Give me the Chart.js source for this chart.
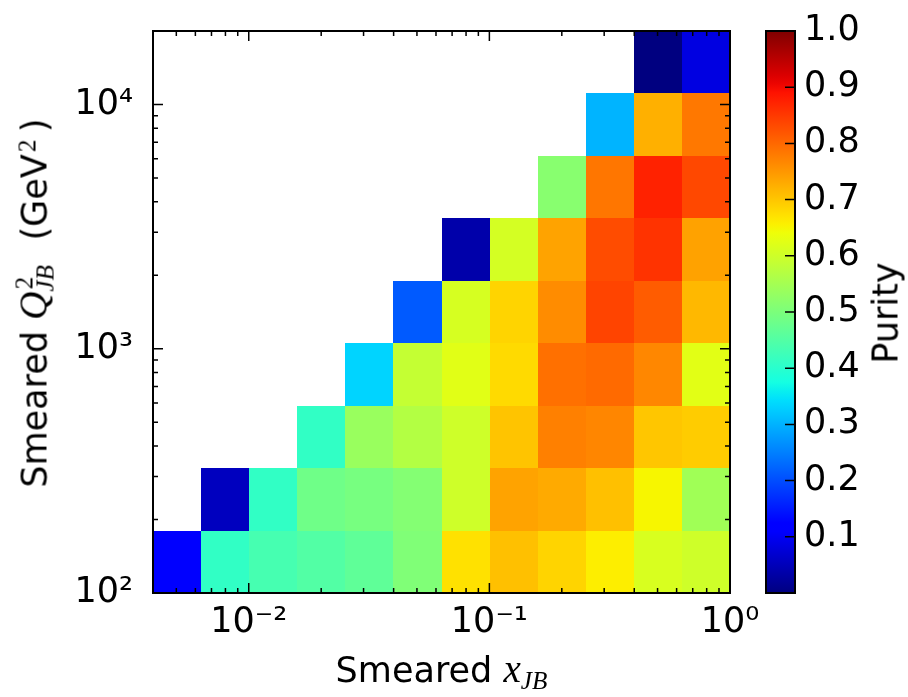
<!DOCTYPE html>
<html><head><meta charset="utf-8">
<script src="https://cdn.jsdelivr.net/npm/chart.js@4.4.1/dist/chart.umd.min.js"></script>
<style>
html,body{margin:0;padding:0;background:#fff;}
#wrap{position:relative;width:908px;height:697px;overflow:hidden;background:#fff;}
#c{position:absolute;left:0;top:0;}
.lbl{position:absolute;font-family:'DejaVu Sans';font-size:35px;line-height:35px;white-space:nowrap;color:#000;}
.lbl span{line-height:0;}
.m{font-family:'Liberation Serif';font-style:italic;font-size:1.12em;}
.ss{position:relative;display:inline-block;}
.sb{position:relative;top:0.28em;font-size:0.72em;font-family:'Liberation Serif';font-style:italic;}
.sp{position:absolute;left:0.08em;top:-0.4em;font-size:0.72em;font-family:'Liberation Serif';}
.sp2{position:relative;top:-0.45em;font-size:0.72em;font-family:'Liberation Serif';margin:0 0.3em 0 0.08em;}
#yt .ss{margin-right:0.7em;}
</style>
</head><body>
<div id="wrap">
<canvas id="c" width="908" height="697"></canvas>
<div class="lbl" id="xt" style="left:441.5px;top:653px;transform:translateX(-50%);">Smeared <span class="m">x</span><span class="sb">JB</span></div>
<div class="lbl" id="yt" style="left:35px;top:303px;transform:translate(-50%,-50%) rotate(-90deg);">Smeared <span class="m">Q</span><span class="ss"><span class="sp">2</span><span class="sb">JB</span></span><span class="gev">(GeV</span><span class="sp2">2</span>)</div>
<div class="lbl" id="pt" style="left:886px;top:312.5px;transform:translate(-50%,-50%) rotate(-90deg);">Purity</div>
</div>
<script>
// ---- data ----
const xEdges = [0.004, 0.0063373, 0.010040, 0.015907, 0.025201, 0.039926, 0.063255, 0.10022, 0.15877, 0.25155, 0.39853, 0.63139, 1.0];
const yEdges = [100, 180.16, 324.58, 584.78, 1053.6, 1898.1, 3419.6, 6160.9, 11100, 20000];
// purity per bin, rows from lowest Q2 bin upward, columns from lowest x bin
const purityRow0 = [0.115, 0.41, 0.435, 0.45, 0.465, 0.505, 0.672, 0.707, 0.686, 0.658, 0.612, 0.60];
const purityRow1 = [null, 0.055, 0.41, 0.485, 0.495, 0.51, 0.60, 0.737, 0.73, 0.707, 0.65, 0.545];
const purityRow2 = [null, null, null, 0.41, 0.536, 0.568, 0.60, 0.702, 0.775, 0.768, 0.70, 0.694];
const purityRow3 = [null, null, null, null, 0.333, 0.588, 0.623, 0.679, 0.791, 0.798, 0.767, 0.625];
const purityRow4 = [null, null, null, null, null, 0.213, 0.61, 0.686, 0.762, 0.838, 0.813, 0.715];
const purityRow5 = [null, null, null, null, null, null, 0.037, 0.608, 0.737, 0.83, 0.856, 0.738];
const purityRow6 = [null, null, null, null, null, null, null, null, 0.515, 0.785, 0.874, 0.834];
const purityRow7 = [null, null, null, null, null, null, null, null, null, 0.301, 0.724, 0.783];
const purityRow8 = [null, null, null, null, null, null, null, null, null, null, 0.0, 0.084];
const purityRows = [purityRow0, purityRow1, purityRow2, purityRow3, purityRow4, purityRow5, purityRow6, purityRow7, purityRow8];

const xTicks = [0.01, 0.1, 1];
const xTickLabels = ['10\u207B\u00B2', '10\u207B\u00B9', '10\u2070'];
const xMinor = [0.005,0.006,0.007,0.008,0.009,0.02,0.03,0.04,0.05,0.06,0.07,0.08,0.09,0.2,0.3,0.4,0.5,0.6,0.7,0.8,0.9];
const yTicks = [100, 1000, 10000];
const yTickLabels = ['10\u00B2', '10\u00B3', '10\u2074'];
const yMinor = [200,300,400,500,600,700,800,900,2000,3000,4000,5000,6000,7000,8000,9000];
const cbTicks = [0.1,0.2,0.3,0.4,0.5,0.6,0.7,0.8,0.9,1.0];
const cbTickLabels = ['0.1','0.2','0.3','0.4','0.5','0.6','0.7','0.8','0.9','1.0'];
const cbMin = 0.0, cbMax = 1.0;

// ---- jet colormap ----
const jetR=[[0,0],[0.35,0],[0.66,1],[0.89,1],[1,0.5]];
const jetG=[[0,0],[0.125,0],[0.375,1],[0.64,1],[0.91,0],[1,0]];
const jetB=[[0,0.5],[0.11,1],[0.34,1],[0.65,0],[1,0]];
function interp(seg,t){for(let i=1;i<seg.length;i++){if(t<=seg[i][0]){const x0=seg[i-1][0],y0=seg[i-1][1],x1=seg[i][0],y1=seg[i][1];return y0+(y1-y0)*(t-x0)/(x1-x0);}}return seg[seg.length-1][1];}
function jetT(t){t=Math.min(1,Math.max(0,t));return 'rgb('+Math.round(255*interp(jetR,t))+','+Math.round(255*interp(jetG,t))+','+Math.round(255*interp(jetB,t))+')';}
function jet(v){return jetT((v-cbMin)/(cbMax-cbMin));}

// cells built from arrays
const cells = [];
purityRows.forEach((row, r) => row.forEach((v, c) => {
  if (v === null) return;
  cells.push({x: Math.sqrt(xEdges[c]*xEdges[c+1]), y: Math.sqrt(yEdges[r]*yEdges[r+1]), c, r, v});
}));

const heatPlugin = {
  id: 'heat',
  beforeDatasetsDraw(chart) {
    const {ctx, scales:{x, y}} = chart;
    ctx.save();
    for (const cell of chart.data.datasets[0].data) {
      const x0 = Math.round(x.getPixelForValue(xEdges[cell.c]));
      const x1 = Math.round(x.getPixelForValue(xEdges[cell.c+1]));
      const y0 = Math.round(y.getPixelForValue(yEdges[cell.r]));
      const y1 = Math.round(y.getPixelForValue(yEdges[cell.r+1]));
      ctx.fillStyle = jet(cell.v);
      ctx.fillRect(x0, y1, x1-x0, y0-y1);
    }
    ctx.restore();
  },
  afterDraw(chart) {
    const {ctx, chartArea:a, scales:{x, y, cb}} = chart;
    ctx.save();
    ctx.strokeStyle = '#000';
    ctx.lineWidth = 1.5;
    ctx.beginPath();
    const vt = (px, len) => { ctx.moveTo(px, a.bottom); ctx.lineTo(px, a.bottom-len); ctx.moveTo(px, a.top); ctx.lineTo(px, a.top+len); };
    const ht = (py, len) => { ctx.moveTo(a.left, py); ctx.lineTo(a.left+len, py); ctx.moveTo(a.right, py); ctx.lineTo(a.right-len, py); };
    xTicks.forEach(v => vt(x.getPixelForValue(v), 10));
    xMinor.forEach(v => vt(x.getPixelForValue(v), 5));
    yTicks.forEach(v => ht(y.getPixelForValue(v), 10));
    yMinor.forEach(v => ht(y.getPixelForValue(v), 5));
    ctx.stroke();
    ctx.lineWidth = 2;
    ctx.strokeRect(a.left, a.top, a.right-a.left, a.bottom-a.top);
    // colorbar
    const cx0 = a.right + 36, cx1 = a.right + 65;
    const top = cb.getPixelForValue(cbMax), bot = cb.getPixelForValue(cbMin);
    const g = ctx.createLinearGradient(0, bot, 0, top);
    for (let i = 0; i <= 64; i++) g.addColorStop(i/64, jetT(i/64));
    ctx.fillStyle = g;
    ctx.fillRect(cx0, top, cx1-cx0, bot-top);
    ctx.lineWidth = 1.5;
    ctx.beginPath();
    cbTicks.forEach(v => { const py = cb.getPixelForValue(v); ctx.moveTo(cx1-10, py); ctx.lineTo(cx1, py); });
    ctx.stroke();
    ctx.lineWidth = 2;
    ctx.strokeRect(cx0, top, cx1-cx0, bot-top);
    ctx.restore();
  }
};

const tickFont = {family: 'DejaVu Sans', size: 35};
const hiddenGrid = (len) => ({display: true, drawOnChartArea: false, drawTicks: true, tickLength: len, color: 'rgba(0,0,0,0)'});
new Chart(document.getElementById('c'), {
  type: 'scatter',
  data: { datasets: [{ data: cells, pointRadius: 0, pointHoverRadius: 0, showLine: false }] },
  options: {
    responsive: false, animation: false, devicePixelRatio: 1,
    layout: { padding: { top: 31, left: 0, right: 0, bottom: 0 } },
    plugins: { legend: {display: false}, tooltip: {enabled: false} },
    events: [],
    scales: {
      x: {
        type: 'logarithmic', position: 'bottom', min: xEdges[0], max: xEdges[xEdges.length-1],
        grid: hiddenGrid(5), border: {display: false},
        afterBuildTicks: s => { s.ticks = xTicks.map(v => ({value: v})); },
        afterFit: s => { s.height = 104; },
        ticks: { autoSkip: false, maxRotation: 0, padding: 4, color: '#000', font: tickFont,
                 callback: (v, i) => xTickLabels[i] }
      },
      y: {
        type: 'logarithmic', position: 'left', min: yEdges[0], max: yEdges[yEdges.length-1],
        grid: hiddenGrid(16), border: {display: false},
        afterBuildTicks: s => { s.ticks = yTicks.map(v => ({value: v})); },
        afterFit: s => { s.width = 153; },
        ticks: { autoSkip: false, padding: 4, color: '#000', font: tickFont,
                 callback: (v, i) => yTickLabels[i] }
      },
      cb: {
        type: 'linear', position: 'right', min: cbMin, max: cbMax,
        grid: hiddenGrid(70), border: {display: false},
        afterBuildTicks: s => { s.ticks = cbTicks.map(v => ({value: v})); },
        afterFit: s => { s.width = 178; },
        ticks: { autoSkip: false, padding: 4, crossAlign: 'near', color: '#000', font: tickFont,
                 callback: (v, i) => cbTickLabels[i] }
      }
    }
  },
  plugins: [heatPlugin]
});
</script>
</body></html>
